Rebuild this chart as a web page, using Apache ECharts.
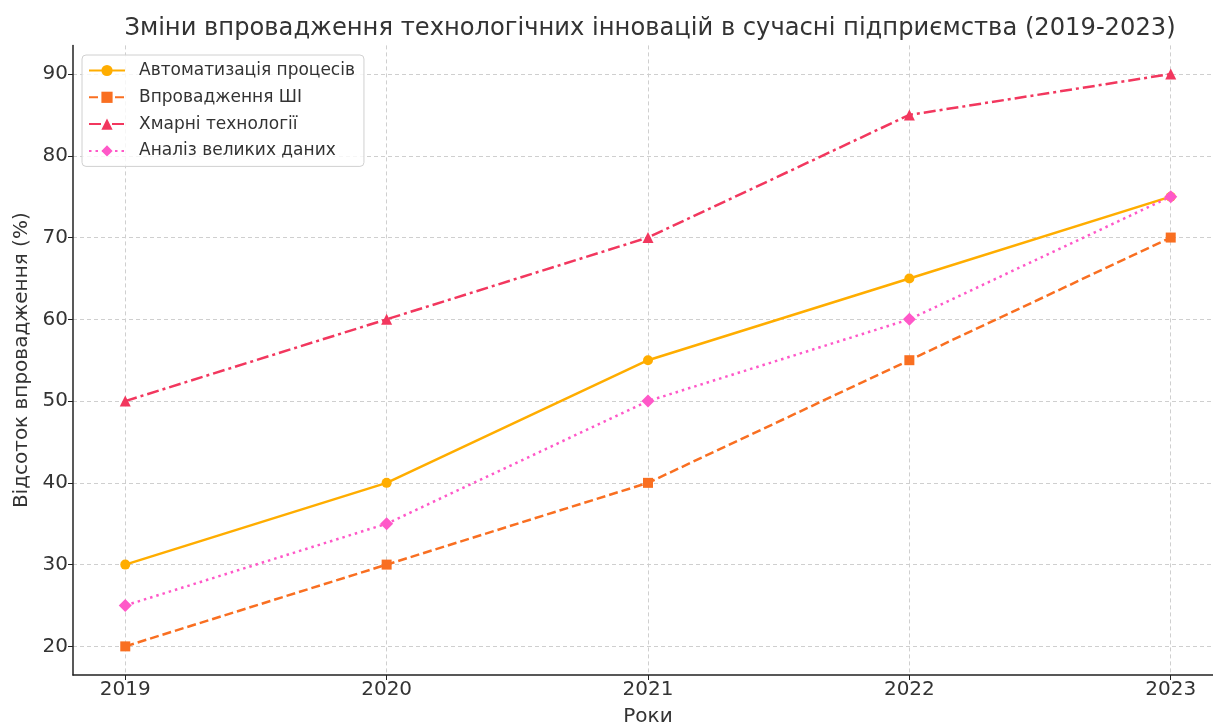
<!DOCTYPE html>
<html><head><meta charset="utf-8">
<script src="https://cdn.jsdelivr.net/npm/echarts@6/dist/echarts.min.js"></script>
<style>html,body{margin:0;padding:0;background:#fff}#c{width:1213px;height:726px}</style>
</head><body><div id="c"></div>
<script>
const years = [2019, 2020, 2021, 2022, 2023];
const automation = [30, 40, 55, 65, 75];
const ai = [20, 30, 40, 55, 70];
const cloud = [50, 60, 70, 85, 90];
const bigData = [25, 35, 50, 60, 75];
const yTicks = [20, 30, 40, 50, 60, 70, 80, 90];
const names = ['Автоматизація процесів', 'Впровадження ШІ', 'Хмарні технології', 'Аналіз великих даних'];
const colors = ['#FFAD00', '#F96F21', '#F2375E', '#FF58C8'];

const F = 'DejaVu Sans';
const chart = echarts.init(document.getElementById('c'), null, {renderer: 'canvas'});
function mk(i, data, symbol, dash, size) {
  return {
    name: names[i], type: 'line', data: years.map((y, k) => [y, data[k]]),
    symbol: symbol, symbolSize: size, showSymbol: true,
    itemStyle: {color: colors[i]},
    lineStyle: {color: colors[i], width: 2.5, type: dash},
    emphasis: {disabled: true}, animation: false, z: 3
  };
}
chart.setOption({
  animation: false,
  title: {text: 'Зміни впровадження технологічних інновацій в сучасні підприємства (2019-2023)',
    left: 645, top: 12, textAlign: 'center',
    textStyle: {fontFamily: F, fontSize: 24.2, fontWeight: 'normal', color: '#333'}},
  legend: {left: 82, top: 55, orient: 'vertical', itemWidth: 36, itemHeight: 14, itemGap: 9.8,
    padding: [7, 9, 7, 6], borderColor: '#d0d0d0', borderWidth: 1, borderRadius: 4, backgroundColor: 'rgba(255,255,255,0.8)',
    textStyle: {fontFamily: F, fontSize: 17, color: '#333', padding: [0, 0, 0, 9]},
    data: names},
  grid: {left: 73, top: 45.4, width: 1150, height: 629.6, containLabel: false, outerBoundsMode: 'none'},
  xAxis: {type: 'value', min: 2018.8, max: 2023.2, interval: 1,
    name: 'Роки', nameLocation: 'middle', nameGap: 32,
    nameTextStyle: {fontFamily: F, fontSize: 20, color: '#333'},
    axisLine: {show: true, lineStyle: {color: '#222', width: 1.5}},
    axisTick: {show: true, length: 5, lineStyle: {color: '#222'}, customValues: years},
    axisLabel: {fontFamily: F, fontSize: 20, color: '#333', margin: 5, customValues: years,
      formatter: v => String(v)},
    splitLine: {show: true, lineStyle: {color: '#cfcfcf', type: [4, 3], width: 1}}},
  yAxis: {type: 'value', min: 16.5, max: 93.5, interval: 10,
    name: 'Відсоток впровадження (%)', nameLocation: 'middle', nameGap: 38,
    nameTextStyle: {fontFamily: F, fontSize: 20, color: '#333'},
    axisLine: {show: true, lineStyle: {color: '#222', width: 1.5}},
    axisTick: {show: true, length: 5, lineStyle: {color: '#222'}, customValues: yTicks},
    axisLabel: {fontFamily: F, fontSize: 20, color: '#333', margin: 5, customValues: yTicks},
    splitLine: {show: true, lineStyle: {color: '#cfcfcf', type: [4, 3], width: 1}}},
  series: [
    mk(0, automation, 'circle', 'solid', 10),
    mk(1, ai, 'rect', [9, 4], 10),
    mk(2, cloud, 'triangle', [12, 4, 3, 4], 11),
    mk(3, bigData, 'diamond', [2.5, 4], 13)
  ]
});
</script></body></html>
